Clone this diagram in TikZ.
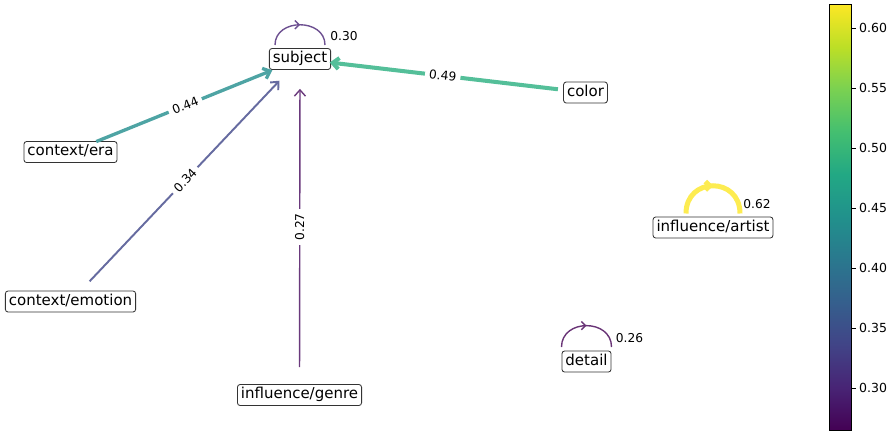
\documentclass[tikz,border=0pt]{standalone}
\usepackage{fontspec}
\setmainfont{DejaVu Sans}
\usetikzlibrary{arrows.meta,decorations.markings}

\definecolor{vir0}{RGB}{68,1,84}
\definecolor{vir1}{RGB}{72,36,117}
\definecolor{vir2}{RGB}{65,68,135}
\definecolor{vir3}{RGB}{53,95,141}
\definecolor{vir4}{RGB}{42,120,142}
\definecolor{vir5}{RGB}{33,145,140}
\definecolor{vir6}{RGB}{34,168,132}
\definecolor{vir7}{RGB}{68,191,112}
\definecolor{vir8}{RGB}{122,209,81}
\definecolor{vir9}{RGB}{189,223,38}
\definecolor{vir10}{RGB}{253,231,37}
\pgfdeclareverticalshading{viridis}{100bp}{color(0bp)=(vir0); color(25bp)=(vir0);
  color(30bp)=(vir1); color(35bp)=(vir2); color(40bp)=(vir3); color(45bp)=(vir4);
  color(50bp)=(vir5); color(55bp)=(vir6); color(60bp)=(vir7); color(65bp)=(vir8);
  color(70bp)=(vir9); color(75bp)=(vir10); color(100bp)=(vir10)}

\definecolor{w26}{RGB}{105,52,118}
\definecolor{w27}{RGB}{106,57,124}
\definecolor{w30}{RGB}{109,80,145}
\definecolor{w34}{RGB}{102,107,160}
\definecolor{w44}{RGB}{78,164,164}
\definecolor{w49}{RGB}{84,191,153}
\definecolor{w62}{RGB}{253,236,81}

\begin{document}
\begin{tikzpicture}[x=0.72pt,y=-0.72pt,
    nd/.style={draw=black!80,line width=0.6pt,fill=white,rounded corners=2pt,inner xsep=2.5pt,inner ysep=2.2pt,
      text height=8.2pt,text depth=2.6pt,font=\fontsize{10.8}{13}\selectfont},
    lbl/.style={fill=white,sloped,inner xsep=3pt,inner ysep=1.5pt,font=\fontsize{8.8}{10}\selectfont},
    looplbl/.style={inner sep=0pt,font=\fontsize{8.8}{10}\selectfont},
    wedge/.style={-{Straight Barb[length=4.5pt,width=8pt]},shorten <=20pt,shorten >=21.5pt},
    selfloop/.style={postaction={decorate},decoration={markings,
      mark=at position 0.5 with {\arrow{Straight Barb[length=3pt,width=6pt]}}}}]
\useasboundingbox (0,0) rectangle (888,432);

\node[nd] (subject) at (300,59) {subject};
\node[nd] (color) at (585.5,92.5) {color};
\node[nd] (era) at (70.5,152) {context/era};
\node[nd] (artist) at (713,227.5) {influence/artist};
\node[nd] (emotion) at (70.5,301.5) {context/emotion};
\node[nd] (detail) at (586.5,361.5) {detail};
\node[nd] (genre) at (299.5,395) {influence/genre};

\draw[wedge,draw=w44,line width=2.4pt] (era.center) -- node[lbl] {0.44} (subject.center);
\draw[wedge,draw=w34,line width=1.4pt] (emotion.center) -- node[lbl] {0.34} (subject.center);
\draw[wedge,draw=w27,line width=1pt] (genre.center) -- node[lbl] {0.27} (subject.center);
\draw[wedge,draw=w49,line width=2.9pt] (color.center) -- node[lbl] {0.49} (subject.center);

\draw[selfloop,draw=w30,line width=1pt,shift={(subject.center)}]
  (-25,-14) .. controls (-25,-41) and (25,-41) .. (25,-14) node[looplbl] at (44,-23) {0.30};
\draw[selfloop,draw=w62,line width=3.6pt,shift={(artist.center)}]
  (-27,-14) .. controls (-27,-51) and (27,-51) .. (27,-14) node[looplbl] at (44,-23.5) {0.62};
\draw[selfloop,draw=w26,line width=1pt,shift={(detail.center)}]
  (-25,-14.5) .. controls (-25,-43) and (25,-43) .. (25,-14.5) node[looplbl] at (43,-23.5) {0.26};

\shade[shading=viridis] (829,4) rectangle (851,430);
\draw[line width=0.6pt] (829,4) rectangle (851,430);
\foreach \v [count=\i from 0] in {0.30,0.35,0.40,0.45,0.50,0.55,0.60}
  \draw[line width=0.6pt] (851,{388-60*\i}) -- ++(5,0)
    node[right,inner sep=2pt,font=\fontsize{9}{11}\selectfont] {\v};
\end{tikzpicture}
\end{document}
